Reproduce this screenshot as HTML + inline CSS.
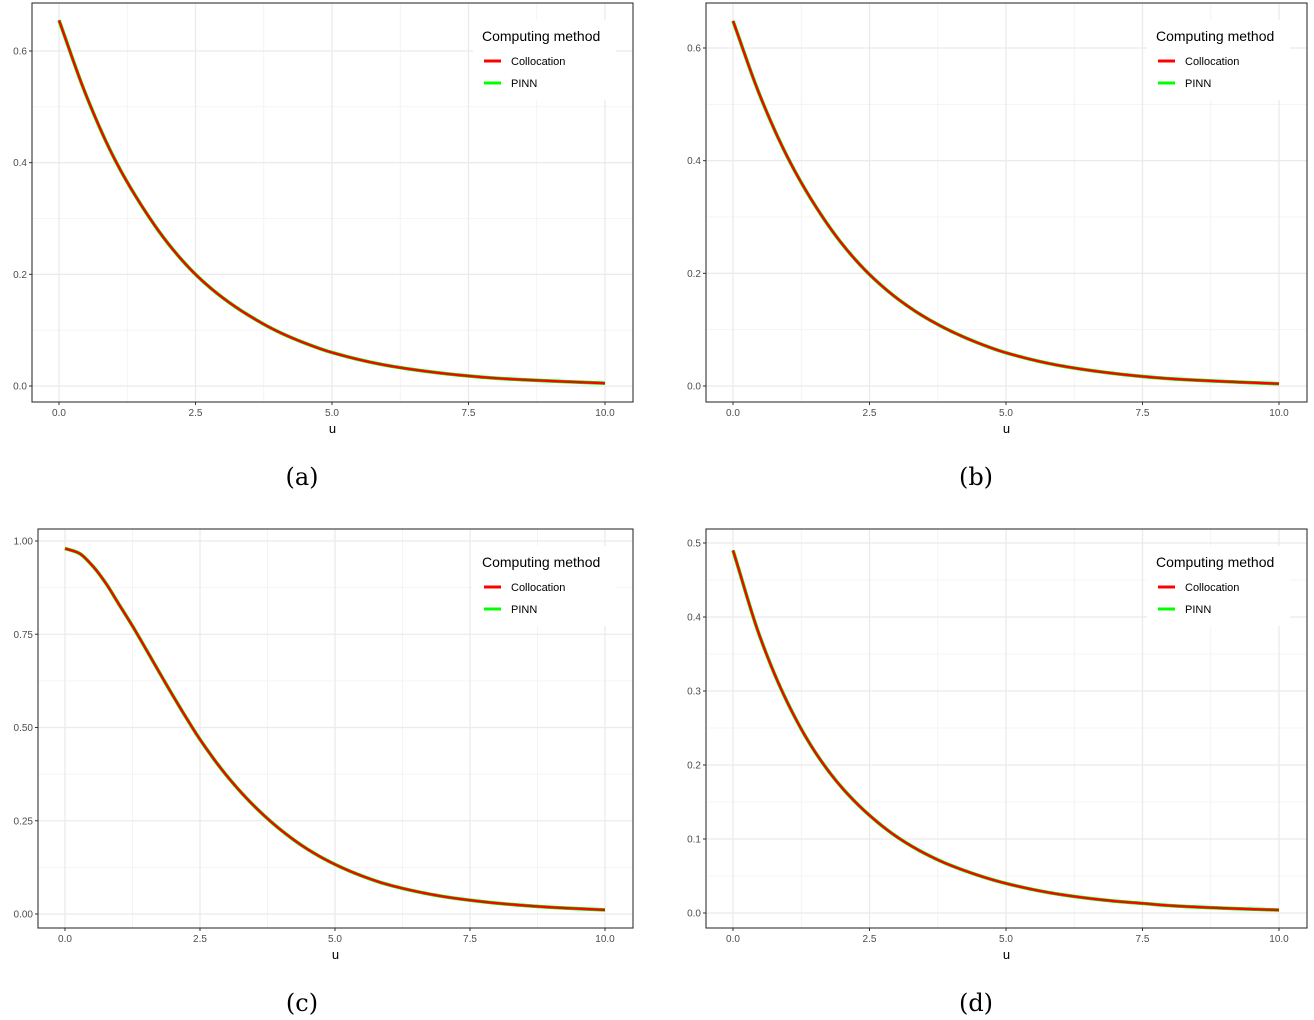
<!DOCTYPE html>
<html><head><meta charset="utf-8">
<style>
html,body{margin:0;padding:0;background:#fff;}
svg{display:block;font-family:"Liberation Sans",sans-serif;}
</style></head>
<body>
<svg id="fig" width="1314" height="1020" viewBox="0 0 1314 1020" xmlns="http://www.w3.org/2000/svg"></svg>
<script>
const uA = [0,0.5,1,1.5,2,2.5,3,3.5,4,4.5,5,6,7,7.5,8,9,10];
const valsA = [0.655,0.52,0.41,0.325,0.255,0.2,0.158,0.125,0.098,0.077,0.06,0.037,0.023,0.018,0.014,0.009,0.005];
const valsB = [0.648,0.514,0.406,0.321,0.252,0.198,0.156,0.123,0.097,0.076,0.059,0.036,0.022,0.017,0.013,0.008,0.004];
const uC = [0,0.25,0.5,0.75,1,1.25,1.5,1.75,2,2.25,2.5,3,3.5,4,4.5,5,5.5,6,7,7.5,8,9,10];
const valsC = [0.98,0.968,0.935,0.888,0.83,0.772,0.71,0.647,0.585,0.525,0.468,0.37,0.29,0.225,0.173,0.133,0.102,0.078,0.047,0.037,0.029,0.018,0.011];
const uD = [0,0.5,1,1.5,2,2.5,3,3.5,4,5,6,7,7.5,8,9,10];
const valsD = [0.49,0.372,0.284,0.218,0.169,0.132,0.103,0.081,0.064,0.04,0.025,0.016,0.013,0.01,0.0065,0.004];
const xTicks = [0,2.5,5,7.5,10];
const xTickLabels = ["0.0","2.5","5.0","7.5","10.0"];
const yTicksA = [0,0.2,0.4,0.6];
const yTickLabelsA = ["0.0","0.2","0.4","0.6"];
const yTicksC = [0,0.25,0.5,0.75,1];
const yTickLabelsC = ["0.00","0.25","0.50","0.75","1.00"];
const yTicksD = [0,0.1,0.2,0.3,0.4,0.5];
const yTickLabelsD = ["0.0","0.1","0.2","0.3","0.4","0.5"];
const seriesNames = ["Collocation","PINN"];
const captions = ["(a)","(b)","(c)","(d)"];

const NS="http://www.w3.org/2000/svg";
const svg=document.getElementById('fig');
function mk(tag,attrs,parent){const e=document.createElementNS(NS,tag);for(const k in attrs)e.setAttribute(k,attrs[k]);(parent||svg).appendChild(e);return e;}

const panels=[
 {key:'a',L:32,R:633,T:3,B:402,x0:59,x10:605,yv0:0,yp0:386,yv1:0.6,yp1:51,u:uA,v:valsA,yt:yTicksA,ytl:yTickLabelsA,cap:captions[0],cx:302,cy:477},
 {key:'b',L:706,R:1307,T:3,B:402,x0:733,x10:1279,yv0:0,yp0:386,yv1:0.6,yp1:48,u:uA,v:valsB,yt:yTicksA,ytl:yTickLabelsA,cap:captions[1],cx:976,cy:477},
 {key:'c',L:38,R:633,T:529,B:928,x0:65,x10:605,yv0:0,yp0:914,yv1:1,yp1:541,u:uC,v:valsC,yt:yTicksC,ytl:yTickLabelsC,cap:captions[2],cx:302,cy:1003},
 {key:'d',L:706,R:1307,T:529,B:928,x0:733,x10:1279,yv0:0,yp0:913,yv1:0.5,yp1:543,u:uD,v:valsD,yt:yTicksD,ytl:yTickLabelsD,cap:captions[3],cx:976,cy:1003}
];

// monotone cubic interpolation (Fritsch-Carlson)
function monotone(xs,ys){
  const n=xs.length,d=[],m=new Array(n);
  for(let i=0;i<n-1;i++)d.push((ys[i+1]-ys[i])/(xs[i+1]-xs[i]));
  m[0]=d[0];m[n-1]=d[n-2];
  for(let i=1;i<n-1;i++){
    if(d[i-1]*d[i]<=0)m[i]=0;
    else{const h0=xs[i]-xs[i-1],h1=xs[i+1]-xs[i];const w1=2*h1+h0,w2=h1+2*h0;m[i]=(w1+w2)/(w1/d[i-1]+w2/d[i]);}
  }
  return x=>{
    let i=0;while(i<n-2&&x>xs[i+1])i++;
    const h=xs[i+1]-xs[i],t=(x-xs[i])/h,t2=t*t,t3=t2*t;
    return (2*t3-3*t2+1)*ys[i]+(t3-2*t2+t)*h*m[i]+(-2*t3+3*t2)*ys[i+1]+(t3-t2)*h*m[i+1];
  };
}

panels.forEach(p=>{
  const xs=u=>p.x0+(p.x10-p.x0)*u/10;
  const ys=v=>p.yp0+(p.yp1-p.yp0)*(v-p.yv0)/(p.yv1-p.yv0);
  const g=mk('g',{});
  
  
  const dy=p.yt[1]-p.yt[0];
  for(let k=-1;k<p.yt.length;k++){
    const y=ys(p.yt[0]+dy*(k+0.5));
    if(y>p.T&&y<p.B){const l=mk('line',{x1:p.L,x2:p.R,y1:y,y2:y,stroke:'#f2f2f2','stroke-width':0.8},g);}
  }
  for(let k=-1;k<xTicks.length;k++){
    const x=xs(xTicks[0]+2.5*(k+0.5));
    if(x>p.L&&x<p.R){const l=mk('line',{x1:x,x2:x,y1:p.T,y2:p.B,stroke:'#f2f2f2','stroke-width':0.8},g);}
  }
  p.yt.forEach((v,i)=>{
    const y=ys(v);
    const l=mk('line',{x1:p.L,x2:p.R,y1:y,y2:y,stroke:'#ebebeb','stroke-width':1.3},g);
    
    mk('line',{x1:p.L-3,x2:p.L,y1:y,y2:y,stroke:'#333','stroke-width':1},g);
    const t=mk('text',{x:p.L-5,y:y+3.5,'text-anchor':'end','font-size':10,fill:'#4d4d4d'},g);
    t.textContent=p.ytl[i];
    
  });
  xTicks.forEach((u,i)=>{
    const x=xs(u);
    const l=mk('line',{x1:x,x2:x,y1:p.T,y2:p.B,stroke:'#ebebeb','stroke-width':1.3},g);
    
    mk('line',{x1:x,x2:x,y1:p.B,y2:p.B+3,stroke:'#333','stroke-width':1},g);
    const t=mk('text',{x:x,y:p.B+14,'text-anchor':'middle','font-size':10,fill:'#4d4d4d'},g);
    t.textContent=xTickLabels[i];
    
  });
  const f=monotone(p.u,p.v);
  const umax=p.u[p.u.length-1];
  let d='';
  for(let s=0;s<=400;s++){
    const u=umax*s/400;
    d+=(s?'L':'M')+xs(u).toFixed(2)+','+ys(f(u)).toFixed(2);
  }
  const pg=mk('path',{d:d,fill:'none',stroke:'#00ff00','stroke-width':3.6,'stroke-linejoin':'round'},g);
  
  const pr=mk('path',{d:d,fill:'none',stroke:'#ff0000','stroke-width':2.4,'stroke-linejoin':'round'},g);
  
  const b=mk('rect',{x:p.L,y:p.T,width:p.R-p.L,height:p.B-p.T,fill:'none',stroke:'#333','stroke-width':1.1},g);
  
  const at=mk('text',{x:(p.L+p.R)/2,y:p.B+31,'text-anchor':'middle','font-size':13,fill:'#000'},g);
  at.textContent='u';
  
  const lg=mk('g',{},g);
  
  const lx=p.R-160, ly=p.T+17;
  mk('rect',{x:lx,y:ly,width:143,height:80,fill:'#fff'},lg);
  const lt=mk('text',{x:lx+9,y:ly+21,'font-size':14,fill:'#000'},lg);
  lt.textContent='Computing method';
  
  const cols=['#ff0000','#00ff00'];
  seriesNames.forEach((n,i)=>{
    const yy=ly+41+i*22;
    const e=mk('g',{},lg);
    
    mk('line',{x1:lx+11,x2:lx+28,y1:yy,y2:yy,stroke:cols[i],'stroke-width':3},e);
    const tt=mk('text',{x:lx+38,y:yy+4,'font-size':11,fill:'#000'},e);
    tt.textContent=n;
  });
  const c=mk('text',{x:p.cx,y:p.cy+8,'text-anchor':'middle','font-size':24,fill:'#000','font-family':'"DejaVu Serif","Liberation Serif",serif'});
  c.textContent=p.cap;
  
});
</script>
</body></html>
